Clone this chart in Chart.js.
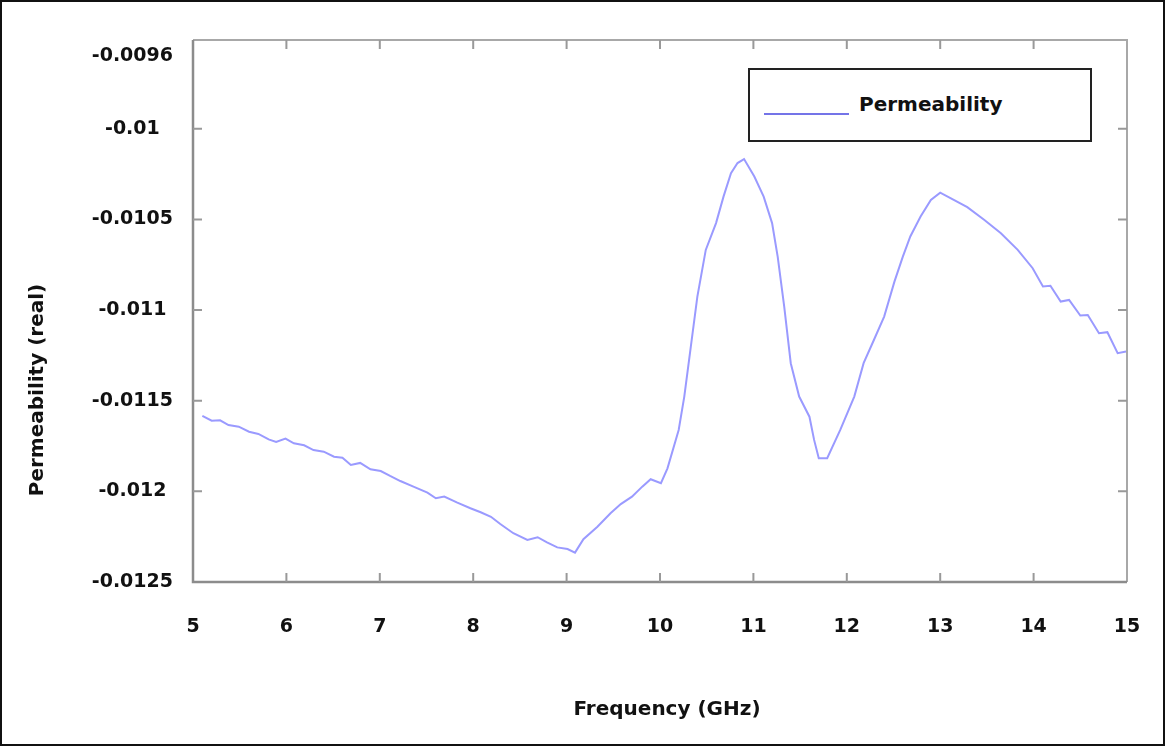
<!DOCTYPE html>
<html>
<head>
<meta charset="utf-8">
<script src="https://cdn.jsdelivr.net/npm/chart.js@4.4.1/dist/chart.umd.min.js"></script>
<style>
  html, body { margin: 0; padding: 0; background: #fff; }
  #wrap { position: relative; width: 1165px; height: 746px; overflow: hidden; }
  #wrap::after { content: ''; position: absolute; inset: 0; border: 2px solid #111; pointer-events: none; }
  canvas { position: absolute; left: 0; top: 0; }
  #legend { position: absolute; left: 748px; top: 68px; width: 344px; height: 74px; box-sizing: border-box;
            border: 2px solid #222; background: #fff; font: bold 20px 'DejaVu Sans', sans-serif; color: #111; }
  #legend .swatch { position: absolute; left: 14px; top: 43px; width: 85px; height: 2px; }
  #legend .txt { position: absolute; left: 109px; top: 22px; line-height: 24px; white-space: nowrap; }
</style>
</head>
<body>
<div id="wrap">
  <canvas id="chart" width="1165" height="746"></canvas>
  <div id="legend"></div>
</div>
<script>
// ============ DATA ============
const freq = [
  5.10, 5.20, 5.29, 5.38, 5.49, 5.60, 5.70, 5.81, 5.89, 5.99,
  6.08, 6.19, 6.29, 6.40, 6.51, 6.60, 6.69, 6.79, 6.90, 7.01,
  7.11, 7.22, 7.36, 7.51, 7.60, 7.69, 7.83, 7.97, 8.08, 8.19,
  8.29, 8.43, 8.58, 8.69, 8.79, 8.90, 9.01, 9.09, 9.18, 9.33,
  9.47, 9.58, 9.70, 9.81, 9.90, 10.01, 10.08, 10.20, 10.26, 10.33,
  10.40, 10.49, 10.60, 10.68, 10.76, 10.83, 10.90, 11.01, 11.11, 11.20,
  11.26, 11.33, 11.40, 11.49, 11.60, 11.65, 11.70, 11.79, 11.93, 12.08,
  12.18, 12.29, 12.40, 12.51, 12.60, 12.68, 12.79, 12.90, 13.00, 13.11,
  13.29, 13.47, 13.65, 13.83, 13.99, 14.10, 14.18, 14.29, 14.38, 14.50,
  14.58, 14.70, 14.79, 14.90, 14.99
];
const permReal = [
  -0.011584, -0.011610, -0.011608, -0.011634, -0.011643, -0.011671, -0.011683, -0.011713, -0.011727, -0.011709,
  -0.011735, -0.011746, -0.011772, -0.011781, -0.011809, -0.011814, -0.011854, -0.011843, -0.011878, -0.011888,
  -0.011915, -0.011943, -0.011974, -0.012007, -0.012038, -0.012029, -0.012062, -0.012093, -0.012115, -0.012140,
  -0.012180, -0.012231, -0.012268, -0.012253, -0.012281, -0.012309, -0.012318, -0.012338, -0.012264, -0.012195,
  -0.012121, -0.012070, -0.012029, -0.011974, -0.011933, -0.011955, -0.011873, -0.011661, -0.011477, -0.011201,
  -0.010926, -0.010668, -0.010520, -0.010374, -0.010245, -0.010189, -0.010167, -0.010263, -0.010374, -0.010520,
  -0.010705, -0.010981, -0.011293, -0.011477, -0.011588, -0.011716, -0.011817, -0.011817, -0.011661, -0.011477,
  -0.011293, -0.011165, -0.011036, -0.010843, -0.010705, -0.010594, -0.010484, -0.010392, -0.010352, -0.010382,
  -0.010432, -0.010502, -0.010576, -0.010668, -0.010769, -0.010870, -0.010866, -0.010953, -0.010944, -0.011030,
  -0.011027, -0.011128, -0.011122, -0.011238, -0.011229
];
const yTicks = [-0.0125, -0.012, -0.0115, -0.011, -0.0105, -0.01, -0.0096];
const xTicks = [5, 6, 7, 8, 9, 10, 11, 12, 13, 14, 15];
const seriesLabel = 'Permeability';
const xTitle = 'Frequency (GHz)';
const yTitle = 'Permeability (real)';

// ============ PLUGINS ============
const FONT = "'DejaVu Sans', sans-serif";

// box frame with inward tick marks on all four sides
const frame = {
  id: 'frame',
  afterDatasetsDraw(chart) {
    const { ctx, chartArea: a, scales } = chart;
    const tl = 9;
    ctx.save();
    ctx.lineCap = 'butt';
    ctx.strokeStyle = '#a8a8a8';
    ctx.lineWidth = 2;
    ctx.beginPath();
    ctx.moveTo(a.left, a.top); ctx.lineTo(a.right, a.top); ctx.lineTo(a.right, a.bottom);
    ctx.stroke();
    ctx.strokeStyle = '#8c8c8c';
    ctx.lineWidth = 2.5;
    ctx.beginPath();
    ctx.moveTo(a.left, a.top); ctx.lineTo(a.left, a.bottom); ctx.lineTo(a.right, a.bottom);
    ctx.stroke();
    ctx.strokeStyle = '#999';
    ctx.lineWidth = 2;
    ctx.beginPath();
    xTicks.slice(1, -1).forEach(v => {
      const px = scales.x.getPixelForValue(v);
      ctx.moveTo(px, a.bottom); ctx.lineTo(px, a.bottom - tl);
      ctx.moveTo(px, a.top); ctx.lineTo(px, a.top + tl);
    });
    yTicks.slice(1, -1).forEach(v => {
      const py = scales.y.getPixelForValue(v);
      ctx.moveTo(a.left, py); ctx.lineTo(a.left + tl, py);
      ctx.moveTo(a.right, py); ctx.lineTo(a.right - tl, py);
    });
    ctx.stroke();
    ctx.restore();
  }
};

// axis titles (y title sits lower than centre in the original)
const titles = {
  id: 'titles',
  afterDraw(chart) {
    const ctx = chart.ctx;
    ctx.save();
    ctx.fillStyle = '#111';
    ctx.font = 'bold 20px ' + FONT;
    ctx.textAlign = 'center';
    ctx.textBaseline = 'middle';
    ctx.fillText(xTitle, 667, 710);
    ctx.translate(38, 390);
    ctx.rotate(-Math.PI / 2);
    ctx.fillText(yTitle, 0, 0);
    ctx.restore();
  }
};

// ============ CHART ============
const tickFont = { family: FONT, size: 19, weight: 'bold' };

const chart = new Chart(document.getElementById('chart'), {
  type: 'line',
  data: {
    datasets: [{
      label: seriesLabel,
      data: freq.map((f, i) => ({ x: f, y: permReal[i] })),
      borderColor: '#9a9aff',
      borderWidth: 2,
      pointRadius: 0,
      tension: 0,
      fill: false
    }]
  },
  options: {
    responsive: false,
    animation: false,
    layout: { padding: { left: 0, top: 40, right: 38, bottom: 0 } },
    plugins: { legend: { display: false }, tooltip: { enabled: false } },
    scales: {
      x: {
        type: 'linear', min: 5, max: 15,
        grid: { display: false, drawTicks: false },
        border: { display: false },
        afterBuildTicks: s => { s.ticks = xTicks.map(v => ({ value: v })); },
        afterFit: s => { s.height = 164; s.paddingRight = 10; s.paddingLeft = 10; },
        ticks: { color: '#111', font: tickFont, padding: 34, maxRotation: 0, callback: v => String(v) }
      },
      y: {
        type: 'linear', min: -0.0125, max: -0.00951,
        grid: { display: false, drawTicks: false },
        border: { display: false },
        afterBuildTicks: s => { s.ticks = yTicks.map(v => ({ value: v })); },
        afterFit: s => { s.width = 193; },
        ticks: { color: '#111', font: tickFont, padding: 20, crossAlign: 'center', callback: v => String(v) }
      }
    }
  },
  plugins: [frame, titles]
});

// legend box
const ds = chart.data.datasets[0];
document.getElementById('legend').innerHTML =
  `<div class="swatch" style="background:#7474e8"></div><div class="txt">${ds.label}</div>`;
</script>
</body>
</html>
